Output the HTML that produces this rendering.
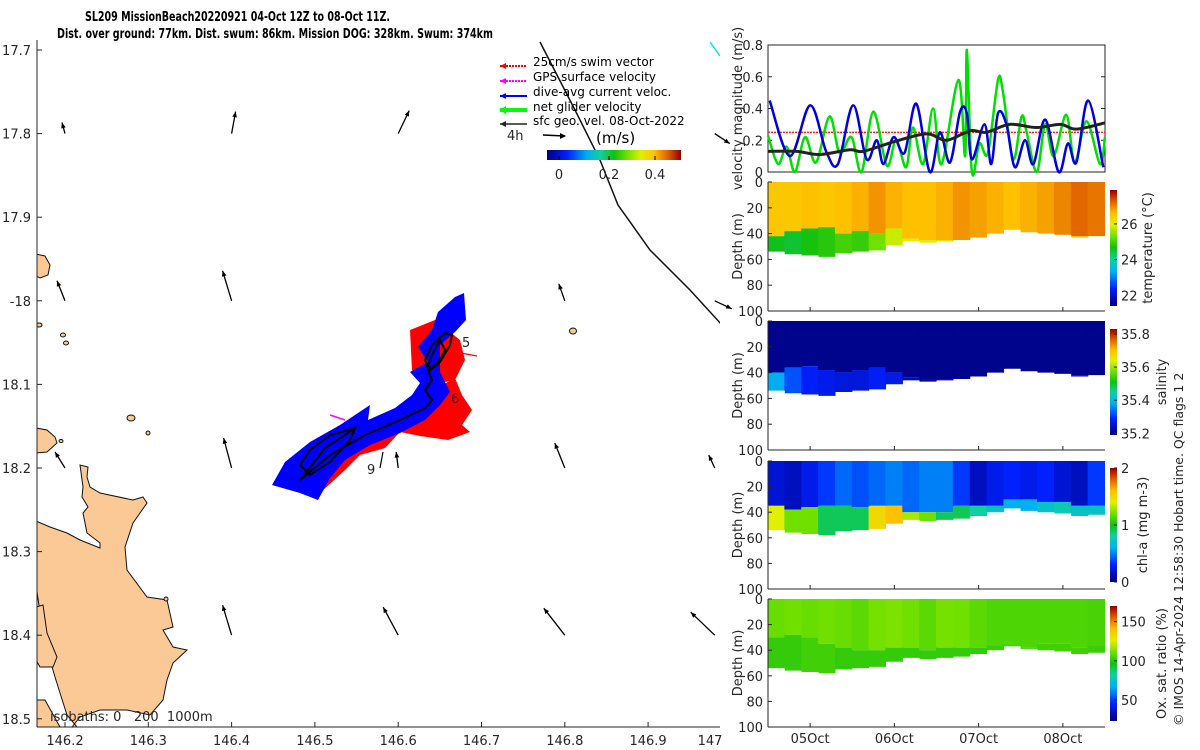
<!DOCTYPE html>
<html><head><meta charset="utf-8">
<style>
html,body{margin:0;padding:0;background:#fff;}
svg{display:block;font-family:"DejaVu Sans","Liberation Sans",sans-serif;}
.tk{font-size:13px;fill:#262626;}
.lg{font-size:12px;fill:#000;}
</style></head>
<body>
<svg id="root" width="1200" height="750" viewBox="0 0 1200 750" xmlns="http://www.w3.org/2000/svg">
<defs>
  <linearGradient id="cbh" x1="0" y1="0" x2="1" y2="0">
    <stop offset="0" stop-color="#00007f"/><stop offset="0.15" stop-color="#0020ff"/><stop offset="0.3" stop-color="#00b0f0"/><stop offset="0.4" stop-color="#10d0a0"/><stop offset="0.5" stop-color="#10c010"/><stop offset="0.6" stop-color="#70e000"/><stop offset="0.7" stop-color="#e0f000"/><stop offset="0.8" stop-color="#ffc000"/><stop offset="0.9" stop-color="#e06000"/><stop offset="1" stop-color="#900000"/>
  </linearGradient>
  <linearGradient id="cbv" x1="0" y1="1" x2="0" y2="0">
    <stop offset="0" stop-color="#00007f"/><stop offset="0.15" stop-color="#0020ff"/><stop offset="0.3" stop-color="#00b0f0"/><stop offset="0.4" stop-color="#10d0a0"/><stop offset="0.5" stop-color="#10c010"/><stop offset="0.6" stop-color="#70e000"/><stop offset="0.7" stop-color="#e0f000"/><stop offset="0.8" stop-color="#ffc000"/><stop offset="0.9" stop-color="#e06000"/><stop offset="1" stop-color="#900000"/>
  </linearGradient>
  <clipPath id="mapclip"><rect x="37" y="40" width="683" height="687"/></clipPath>
</defs>

<text x="85" y="21" font-size="13" font-weight="bold" textLength="305" lengthAdjust="spacingAndGlyphs">SL209 MissionBeach20220921 04-Oct 12Z to 08-Oct 11Z.</text>
<text x="57" y="38" font-size="13" font-weight="bold" textLength="436" lengthAdjust="spacingAndGlyphs">Dist. over ground: 77km. Dist. swum: 86km. Mission DOG: 328km. Swum: 374km</text>

<g id="map">
 <g clip-path="url(#mapclip)" fill="#fbc996" stroke="#111" stroke-width="1">
  <polygon points="36,521 50,527 67,533 80,540 100,548 100,543 87,533 83,513 88,507 82,497 83,487 80,465 88,467 87,477 90,487 100,493 133,500 143,497 147,503 133,523 125,547 127,570 147,597 167,600 173,627 163,630 173,647 187,650 173,663 167,680 163,700 150,715 127,710 100,710 80,717 72,727 36,727 36,700 45,700 60,727 77,727 67,715 60,693 55,677 50,660 43,633 36,585"/>
  <polygon points="36,607 43,605 47,633 57,657 53,667 40,667 36,660"/>
  <polygon points="36,428 47,430 55,437 57,443 47,452 36,453"/>
  <polygon points="36,254 45,256 50,265 48,275 40,278 36,276"/>
  <ellipse cx="131" cy="418" rx="4" ry="3"/>
  <ellipse cx="148" cy="433" rx="2" ry="2"/>
  <ellipse cx="61" cy="441" rx="2" ry="1.5"/>
  <ellipse cx="63" cy="335" rx="2.5" ry="2"/>
  <ellipse cx="66" cy="343" rx="2.5" ry="2"/>
  <ellipse cx="39" cy="325" rx="3" ry="2"/>
  <ellipse cx="573" cy="331" rx="3.5" ry="3"/>
  <ellipse cx="166" cy="599" rx="2" ry="2"/>
 </g>
 <g clip-path="url(#mapclip)">
  <polyline points="540,42 575,110 600,160 618,205 650,250 690,290 722,325" fill="none" stroke="#111" stroke-width="1.5"/>
  <line x1="710" y1="42" x2="720" y2="56" stroke="#00e5ee" stroke-width="1.5"/>
 </g>
 <g>
  <polygon fill="#ff0000" points="305,490 312,470 330,450 360,432 385,420 410,405 430,392 455,378 462,395 472,410 462,425 470,432 448,440 420,436 400,432 385,448 360,455 345,470 320,493"/>
  <polygon fill="#ff0000" points="410,330 435,320 460,340 465,360 455,380 430,385 412,370"/>
  <polygon fill="#0000ff" points="272,485 285,462 310,442 340,425 370,405 368,420 395,408 412,395 420,383 410,372 428,362 418,347 432,330 438,312 455,297 464,293 466,320 455,332 440,345 440,372 450,392 440,405 425,420 400,433 370,445 345,460 330,478 318,500 300,493"/>
  <polyline fill="none" stroke="#000" stroke-width="2" points="300,480 330,455 365,435 400,420 425,408 432,400 425,390 432,380 428,370 440,360 445,350 440,340 432,355 428,365 430,370 440,362 450,345 452,335 445,333 432,345 425,360 428,368"/>
  <polyline fill="none" stroke="#000" stroke-width="2" points="300,480 325,448 355,428 350,440 330,462 310,475 300,465 310,450 330,435 355,428"/>
  <line x1="330" y1="415" x2="345" y2="420" stroke="#ff00ff" stroke-width="1.5"/>
  <line x1="455" y1="352" x2="477" y2="356" stroke="#ff0000" stroke-width="1.2"/>
  <line x1="383" y1="452" x2="380" y2="468" stroke="#000" stroke-width="1.2"/>
  <text x="462" y="347" class="tk">5</text>
  <text x="451" y="403" class="tk">6</text>
  <text x="367" y="474" class="tk">9</text>
 </g>
 <g id="arrows" stroke="#000" stroke-width="1.3" fill="#000"></g>
 <line x1="37" y1="40" x2="37" y2="727" stroke="#262626"/>
 <line x1="37" y1="727" x2="720" y2="727" stroke="#262626"/>
 <g id="mapticks"></g>
 <text x="50" y="721" class="tk" xml:space="preserve">isobaths: 0   200  1000m</text>
 <g>
  <line x1="500" y1="66" x2="527" y2="66" stroke="#ff0000" stroke-width="2" stroke-dasharray="2,1"/><path d="M500,66 l6,-3 v6z" fill="#ff0000"/>
  <text x="533" y="66" class="lg">25cm/s swim vector</text>
  <line x1="500" y1="81" x2="527" y2="81" stroke="#ff00ff" stroke-width="2" stroke-dasharray="2,1"/><path d="M500,81 l6,-3 v6z" fill="#ff00ff"/>
  <text x="533" y="81" class="lg">GPS surface velocity</text>
  <line x1="500" y1="96" x2="527" y2="96" stroke="#0000ff" stroke-width="2"/><path d="M500,96 l6,-3 v6z" fill="#0000ff"/>
  <text x="533" y="96" class="lg">dive-avg current veloc.</text>
  <line x1="500" y1="110" x2="527" y2="110" stroke="#00ff00" stroke-width="4"/><path d="M499,110 l7,-4 v8z" fill="#00ff00"/>
  <text x="533" y="111" class="lg">net glider velocity</text>
  <line x1="500" y1="124" x2="527" y2="124" stroke="#222" stroke-width="1.5"/><path d="M500,124 l6,-3 v6z" fill="#222"/>
  <text x="533" y="125" class="lg">sfc geo. vel. 08-Oct-2022</text>
  <text x="507" y="140" class="tk">4h</text>
  <line x1="543" y1="135" x2="565" y2="136" stroke="#000" stroke-width="1.5"/><path d="M566,136 l-6,-3 v6z" fill="#000"/>
  <text x="596" y="143" font-size="15" fill="#000">(m/s)</text>
  <rect x="547" y="150" width="134" height="10" fill="url(#cbh)"/>
  <line x1="559" y1="160" x2="559" y2="156" stroke="#000"/><line x1="609" y1="160" x2="609" y2="156" stroke="#000"/><line x1="655" y1="160" x2="655" y2="156" stroke="#000"/>
  <text x="559" y="179" class="tk" text-anchor="middle">0</text>
  <text x="609" y="179" class="tk" text-anchor="middle">0.2</text>
  <text x="655" y="179" class="tk" text-anchor="middle">0.4</text>
 </g>
</g>

<g id="vel"></g>
<g id="temp"></g>
<g id="sal"></g>
<g id="chl"></g>
<g id="oxy"></g>
<text transform="translate(1183,726) rotate(-90)" font-size="12.5" fill="#262626">© IMOS 14-Apr-2024 12:58:30 Hobart time. QC flags 1  2</text>
</svg>
<script>
// ===== velocity data (time in days from 04-Oct 12Z) =====
const blueT=[0.02,0.26,0.5,0.69,0.83,1.01,1.17,1.29,1.37,1.49,1.62,1.76,1.92,2.04,2.16,2.28,2.36,2.42,2.57,2.65,2.73,2.83,2.93,3.05,3.15,3.29,3.45,3.56,3.66,3.8,3.98];
const blueV=[0.45,0.1,0.42,0.13,0.05,0.42,0.08,0.2,0.05,0.22,0.12,0.43,0,0.25,0.06,0.38,0.37,0.08,0.3,0.05,0.37,0.3,0.03,0.2,0.05,0.33,0,0.18,0.06,0.45,0.03];
const greenT=[0,0.12,0.22,0.32,0.44,0.57,0.73,0.85,0.99,1.11,1.25,1.41,1.52,1.64,1.72,1.84,1.96,2.06,2.26,2.34,2.36,2.42,2.51,2.61,2.73,2.79,2.91,3.01,3.07,3.19,3.29,3.39,3.54,3.64,3.78,3.94,4.0];
const greenV=[0.23,0.05,0.16,0,0.22,0.06,0.35,0.12,0.22,0,0.38,0.04,0.2,0.03,0.28,0.05,0.4,0.05,0.58,0.1,0.77,0,0.18,0.12,0.58,0.5,0.08,0.35,0.25,0,0.3,0.1,0.36,0.06,0.32,0.05,0.22];
const blackT=[0,0.34,0.61,0.97,1.13,1.49,1.88,2.12,2.4,2.59,2.87,3.19,3.47,3.66,4];
const blackV=[0.13,0.13,0.11,0.14,0.13,0.19,0.24,0.2,0.26,0.25,0.3,0.28,0.3,0.27,0.31];
const swimSpeed=0.25;
const velTicks=[0,0.2,0.4,0.6,0.8];
const dateTicks=[0.5,1.5,2.5,3.5];
const dateLabels=["05Oct","06Oct","07Oct","08Oct"];
// ===== section data (20 columns, 0.2 day each) =====
const bottomDepth=[54,56,57,58,55,54,53,49,46,47,46,45,43,40,37,39,40,41,43,42];
const tempSurf=[26.5,26.5,26.6,26.5,26.6,26.7,26.9,26.7,26.6,26.6,26.7,26.9,26.8,26.7,26.6,26.7,26.8,27.0,27.2,27.1];
const tempDeep=[24.6,24.5,24.7,24.8,25.0,24.9,25.3,25.8,26.0,26.0,26.2,26.5,26.6,26.6,26.6,26.6,26.6,26.6,26.6,26.6];
const tempMld=[42,38,36,35,40,38,40,36,44,45,45,46,46,45,42,40,40,41,42,42];
const salSurf=[35.2,35.2,35.2,35.2,35.2,35.2,35.2,35.2,35.2,35.2,35.2,35.2,35.2,35.2,35.2,35.2,35.2,35.2,35.2,35.2];
const salDeep=[35.38,35.32,35.28,35.27,35.26,35.26,35.28,35.27,35.23,35.21,35.21,35.2,35.2,35.2,35.2,35.2,35.2,35.2,35.2,35.2];
const salMld=[40,36,35,38,40,38,36,40,44,45,45,46,46,45,42,40,40,41,42,42];
const chlSurf=[0.2,0.15,0.25,0.35,0.45,0.4,0.45,0.5,0.45,0.5,0.5,0.35,0.15,0.25,0.3,0.25,0.3,0.2,0.15,0.35];
const chlDeep=[1.4,1.2,1.2,0.9,0.9,0.9,1.5,1.6,1.3,1.2,0.9,0.9,0.8,0.7,0.6,0.6,0.7,0.75,0.7,0.7];
const chlMld=[35,38,36,35,35,36,35,35,40,40,40,35,35,35,30,30,32,32,35,35];
const oxySurf=[110,111,110,111,110,108,112,113,111,108,112,111,108,106,106,106,106,106,106,105];
const oxyDeep=[102,102,104,104,102,102,102,102,102,102,102,102,102,103,103,104,104,104,104,103];
const oxyMld=[30,28,30,35,38,40,40,38,38,40,38,38,38,36,36,38,35,35,38,36];
// ===== map current arrows (lon, lat, u, v in m/s) =====
const arrLon=[146.2,146.4,146.6,146.98,146.2,146.4,146.8,146.98,146.2,146.4,146.6,146.8,146.98,146.4,146.6,146.8,146.98];
const arrLat=[-17.8,-17.8,-17.8,-17.8,-18.0,-18.0,-18.0,-18.0,-18.2,-18.2,-18.2,-18.2,-18.2,-18.4,-18.4,-18.4,-18.4];
const arrU=[-0.03,0.04,0.11,0.15,-0.08,-0.09,-0.06,0.17,-0.1,-0.08,-0.02,-0.1,-0.06,-0.09,-0.15,-0.21,-0.24];
const arrV=[0.11,0.22,0.23,-0.1,0.2,0.3,0.17,-0.08,0.16,0.3,0.16,0.25,0.13,0.3,0.28,0.27,0.23];
const latTicks=[-17.7,-17.8,-17.9,-18.0,-18.1,-18.2,-18.3,-18.4,-18.5];
const latLabels=["17.7","17.8","17.9","-18","18.1","18.2","18.3","18.4","18.5"];
const lonTicks=[146.2,146.3,146.4,146.5,146.6,146.7,146.8,146.9,147.0];
const lonLabels=["146.2","146.3","146.4","146.5","146.6","146.7","146.8","146.9","147"];

const NS="http://www.w3.org/2000/svg";
function mk(tag,attrs,parent){const e=document.createElementNS(NS,tag);for(const k in attrs)e.setAttribute(k,attrs[k]);if(parent)parent.appendChild(e);return e;}
const stops=[[0,[0,0,127]],[0.15,[0,32,255]],[0.3,[0,176,240]],[0.4,[16,208,160]],[0.5,[16,192,16]],[0.6,[112,224,0]],[0.7,[224,240,0]],[0.8,[255,192,0]],[0.9,[224,96,0]],[1,[144,0,0]]];
function cmap(t){t=Math.max(0,Math.min(1,t));for(let i=1;i<stops.length;i++){if(t<=stops[i][0]){const a=stops[i-1],b=stops[i];const f=(t-a[0])/(b[0]-a[0]);const c=a[1].map((v,j)=>Math.round(v+(b[1][j]-v)*f));return "rgb("+c[0]+","+c[1]+","+c[2]+")";}}return "rgb(144,0,0)";}
function smooth(P){let d="M"+P[0][0]+","+P[0][1];for(let i=0;i<P.length-1;i++){const p0=P[Math.max(0,i-1)],p1=P[i],p2=P[i+1],p3=P[Math.min(P.length-1,i+2)];
 d+=" C"+(p1[0]+(p2[0]-p0[0])/6)+","+(p1[1]+(p2[1]-p0[1])/6)+" "+(p2[0]-(p3[0]-p1[0])/6)+","+(p2[1]-(p3[1]-p1[1])/6)+" "+p2[0]+","+p2[1];}return d;}

const lonX=l=>65+(l-146.2)*833;
const latY=l=>50+(-17.7-l)*836;
const mt=document.getElementById('mapticks');
latTicks.forEach((v,i)=>{const y=latY(v);mk('line',{x1:37,y1:y,x2:42,y2:y,stroke:'#262626'},mt);
 const t=mk('text',{x:31,y:y+5,'text-anchor':'end',class:'tk'},mt);t.textContent=latLabels[i];
 
 });
lonTicks.forEach((v,i)=>{const x=lonX(v);if(x<720)mk('line',{x1:x,y1:727,x2:x,y2:722,stroke:'#262626'},mt);
 const t=mk('text',{x:Math.min(x,710),y:745,'text-anchor':'middle',class:'tk'},mt);t.textContent=lonLabels[i];
 
 });
const ag=document.getElementById('arrows');
arrLon.forEach((lo,i)=>{const x=lonX(lo),y=latY(arrLat[i]);const sc=100;const x2=x+arrU[i]*sc,y2=y-arrV[i]*sc;
 const g=mk('g',{},ag);
 
 
 mk('line',{x1:x,y1:y,x2:x2,y2:y2},g);
 const a=Math.atan2(y2-y,x2-x);const h=6;
 mk('path',{d:"M"+x2+","+y2+" L"+(x2-h*Math.cos(a-0.4))+","+(y2-h*Math.sin(a-0.4))+" L"+(x2-h*Math.cos(a+0.4))+","+(y2-h*Math.sin(a+0.4))+"Z",stroke:'none'},g);});

const PX0=768,PX1=1105;
const tX=d=>PX0+d*(PX1-PX0)/4;
(function(){
 const g=document.getElementById('vel');const y0=172,y1=45;const vY=v=>y0+(y1-y0)*v/0.8;
 mk('rect',{x:PX0,y:y1,width:PX1-PX0,height:y0-y1,fill:'#fff',stroke:'#262626','stroke-width':1},g);
 velTicks.forEach(v=>{const y=vY(v);mk('line',{x1:PX0,y1:y,x2:PX0+4,y2:y,stroke:'#262626'},g);mk('line',{x1:PX1,y1:y,x2:PX1-4,y2:y,stroke:'#262626'},g);
  const t=mk('text',{x:PX0-5,y:y+5,'text-anchor':'end',class:'tk'},g);t.textContent=v===0?'0':v.toFixed(1);});
 const yl=mk('text',{transform:"translate(742,"+((y0+y1)/2)+") rotate(-90)",'text-anchor':'middle',class:'tk'},g);yl.textContent='velocity magnitude (m/s)';
 
 
 const sw=mk('line',{x1:PX0,y1:vY(swimSpeed),x2:PX1,y2:vY(swimSpeed),stroke:'#ff2020','stroke-width':1.5,'stroke-dasharray':'2,1'},g);
 
 
 const ln=(T,V,c,w,n)=>{const p=mk('path',{d:smooth(T.map((t,i)=>[tX(t),Math.min(y0,vY(V[i]))])),fill:'none',stroke:c,'stroke-width':w,'stroke-linejoin':'round'},g);
  
  };
 ln(greenT,greenV,'#00e000',2.5,'net-glider-velocity-line');
 ln(blueT,blueV,'#0000e0',2.5,'dive-avg-current-line');
 ln(blackT,blackV,'#222',3,'surface-geostrophic-line');
})();

function section(id,y0,y1,surf,deep,mld,vmin,vmax,cbTop,cbBot,cbTicks,cbLabels,title,showDates){
 const g=document.getElementById(id);const dY=d=>y0+(y1-y0)*d/100;const n=surf.length;const cw=(PX1-PX0)/n;
 const cid=id+'clip';const cp=mk('clipPath',{id:cid},g);
 let pts=PX0+","+dY(0)+" "+PX1+","+dY(0)+" ";
 for(let i=n-1;i>=0;i--){pts+=(PX0+(i+1)*cw)+","+dY(bottomDepth[i])+" "+(PX0+i*cw)+","+dY(bottomDepth[i])+" ";}
 mk('polygon',{points:pts},cp);
 const cg=mk('g',{'clip-path':"url(#"+cid+")"},g);
 const norm=v=>(v-vmin)/(vmax-vmin);
 for(let i=0;i<n;i++){const x=PX0+i*cw;
  const r1=mk('rect',{x:x-0.5,y:dY(0),width:cw+1.5,height:dY(mld[i])-dY(0),fill:cmap(norm(surf[i]))},cg);
  
  
  const r2=mk('rect',{x:x-0.5,y:dY(mld[i]),width:cw+1.5,height:dY(100)-dY(mld[i]),fill:cmap(norm(deep[i]))},cg);
  
  }
 mk('line',{x1:PX0,y1:y0,x2:PX0,y2:y1,stroke:'#262626'},g);
 mk('line',{x1:PX0,y1:y1,x2:PX1,y2:y1,stroke:'#262626'},g);
 [0,20,40,60,80,100].forEach(d=>{const y=dY(d);mk('line',{x1:PX0,y1:y,x2:PX0+4,y2:y,stroke:'#262626'},g);
  const t=mk('text',{x:PX0-5,y:y+5,'text-anchor':'end',class:'tk'},g);t.textContent=d;});
 dateTicks.forEach((d,i)=>{mk('line',{x1:tX(d),y1:y1,x2:tX(d),y2:y1-4,stroke:'#262626'},g);
  if(showDates){const t=mk('text',{x:tX(d),y:y1+16,'text-anchor':'middle',class:'tk'},g);t.textContent=dateLabels[i];
   
   }});
 const yl=mk('text',{transform:"translate(742,"+((y0+y1)/2)+") rotate(-90)",'text-anchor':'middle',class:'tk'},g);yl.textContent='Depth (m)';
 
 
 const cb=mk('rect',{x:1110,y:cbTop,width:7,height:cbBot-cbTop,fill:'url(#cbv)'},g);
 
 
 cbTicks.forEach((v,i)=>{const y=cbBot-(cbBot-cbTop)*(v-vmin)/(vmax-vmin);mk('line',{x1:1117,y1:y,x2:1114,y2:y,stroke:'#262626'},g);
  const t=mk('text',{x:1121,y:y+5,class:'tk'},g);t.textContent=cbLabels[i];});
 const ct=mk('text',{transform:"translate("+title[1]+","+((cbTop+cbBot)/2)+") rotate(-90)",'text-anchor':'middle',class:'tk','font-size':'14'},g);ct.textContent=title[0];
 
 
}
section('temp',182,311,tempSurf,tempDeep,tempMld,21.4,27.9,190,306,[22,24,26],['22','24','26'],['temperature (°C)',1152],false);
section('sal',321,450,salSurf,salDeep,salMld,35.19,35.83,329,435,[35.2,35.4,35.6,35.8],['35.2','35.4','35.6','35.8'],['salinity',1166],false);
section('chl',461,589,chlSurf,chlDeep,chlMld,0,2,468,582,[0,1,2],['0','1','2'],['chl-a (mg m-3)',1147],false);
section('oxy',599,727,oxySurf,oxyDeep,oxyMld,23,170,606,721,[50,100,150],['50','100','150'],['Ox. sat. ratio (%)',1166],true);
</script>
</body></html>
